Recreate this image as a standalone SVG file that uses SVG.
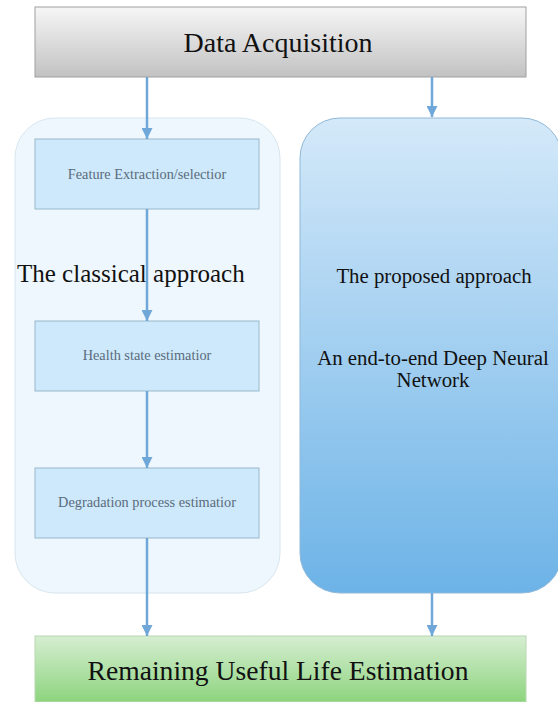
<svg xmlns="http://www.w3.org/2000/svg" width="558" height="702" viewBox="0 0 558 702">
<defs>
<linearGradient id="gGray" x1="0" y1="0" x2="0" y2="1"><stop offset="0" stop-color="#f6f6f6"/><stop offset="1" stop-color="#c2c2c2"/></linearGradient>
<linearGradient id="gBlue" x1="0" y1="0" x2="0" y2="1"><stop offset="0" stop-color="#d4e9f9"/><stop offset="1" stop-color="#6db3e7"/></linearGradient>
<linearGradient id="gGreen" x1="0" y1="0" x2="0" y2="1"><stop offset="0" stop-color="#d6eed2"/><stop offset="1" stop-color="#8dd47e"/></linearGradient>
<marker id="ah" viewBox="0 0 10 10" refX="10" refY="5" markerWidth="4.4" markerHeight="4.4" markerUnits="strokeWidth" orient="auto"><path d="M0,0 L10,5 L0,10 Z" fill="#6fa8d8"/></marker>
</defs>
<style>
text{font-family:'Liberation Serif','DejaVu Serif',serif;}
.step{fill:#cde9fb;stroke:#9ab8cc;stroke-width:1;}
.steptxt{font-size:14.3px;fill:#5b6b7b;text-anchor:middle;}
.conn{stroke:#6fa8d8;stroke-width:2.5;fill:none;marker-end:url(#ah);}
.big{fill:#111;}
</style>
<g id="data-acquisition">
<rect x="35" y="7" width="491" height="70" fill="url(#gGray)" stroke="#a0a0a0"/>
<text class="big" x="278" y="52" font-size="28" text-anchor="middle">Data Acquisition</text>
</g>
<g id="classical">
<rect x="15" y="118" width="265" height="475" rx="40" fill="#eef7fd" stroke="#d8e6ef"/>
<text class="big" x="17" y="282" font-size="25">The classical approach</text>
</g>
<g id="proposed">
<rect x="300" y="118" width="262" height="475" rx="40" fill="url(#gBlue)" stroke="#8fb8d8"/>
<text class="big" x="434" y="283" font-size="20.8" text-anchor="middle">The proposed approach</text>
<text class="big" x="433" y="365" font-size="20.8" text-anchor="middle">An end-to-end Deep Neural</text>
<text class="big" x="433" y="387" font-size="20.8" text-anchor="middle">Network</text>
</g>
<g id="feature-extraction">
<rect class="step" x="35" y="139" width="224" height="70"/>
<text class="steptxt" x="147" y="179">Feature Extraction/selectior</text>
</g>
<g id="health-state">
<rect class="step" x="35" y="321" width="224" height="70"/>
<text class="steptxt" x="147" y="360">Health state estimatior</text>
</g>
<g id="degradation">
<rect class="step" x="35" y="468" width="224" height="70"/>
<text class="steptxt" x="147" y="507">Degradation process estimatior</text>
</g>
<g id="rul">
<rect x="35" y="636" width="491" height="66" fill="url(#gGreen)" stroke="#b8d8b0"/>
<text class="big" x="278" y="680" font-size="27.6" text-anchor="middle">Remaining Useful Life Estimation</text>
</g>
<g id="connectors">
<line class="conn" x1="147" y1="77" x2="147" y2="139"/>
<line class="conn" x1="432" y1="77" x2="432" y2="117"/>
<line class="conn" x1="147" y1="209" x2="147" y2="321"/>
<line class="conn" x1="147" y1="391" x2="147" y2="468"/>
<line class="conn" x1="147" y1="538" x2="147" y2="636"/>
<line class="conn" x1="432" y1="593" x2="432" y2="636"/>
</g>
</svg>
